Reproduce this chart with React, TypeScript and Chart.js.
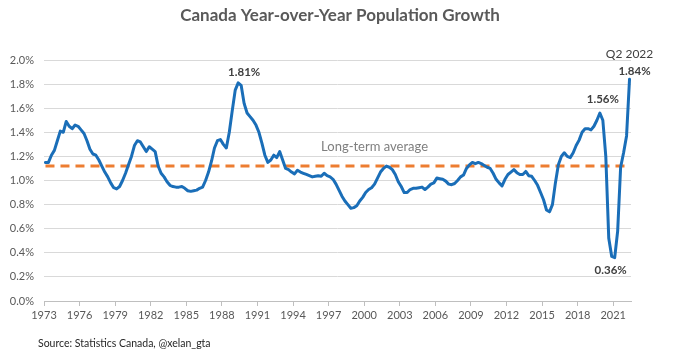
import React, { useEffect, useRef } from "react";
import { Chart, registerables } from "chart.js";

Chart.register(...registerables);

const TITLE = "Canada Year-over-Year Population Growth";
const SOURCE = "Source: Statistics Canada, @xelan_gta";
const START_YEAR = 1973;

// Quarterly YoY population growth (%), 1973 Q1 .. 2022 Q2
const growth: number[] = [
  1.15, 1.15, 1.21, 1.25, 1.33, 1.41, 1.40, 1.49, 1.45, 1.43, 1.46, 1.45,
  1.42, 1.39, 1.33, 1.26, 1.22, 1.21, 1.17, 1.12, 1.07, 1.03, 0.98, 0.94,
  0.93, 0.95, 1.00, 1.06, 1.13, 1.20, 1.29, 1.33, 1.32, 1.28, 1.24, 1.28,
  1.26, 1.24, 1.12, 1.06, 1.03, 0.99, 0.96, 0.95, 0.945, 0.945, 0.95, 0.935,
  0.915, 0.91, 0.915, 0.92, 0.935, 0.945, 1.00, 1.07, 1.16, 1.27, 1.33, 1.34,
  1.30, 1.27, 1.40, 1.58, 1.75, 1.81, 1.79, 1.64, 1.56, 1.53, 1.50, 1.46,
  1.40, 1.31, 1.21, 1.15, 1.17, 1.21, 1.19, 1.24, 1.17, 1.10, 1.09, 1.07,
  1.055, 1.085, 1.07, 1.06, 1.05, 1.04, 1.03, 1.035, 1.04, 1.035, 1.06, 1.04,
  1.03, 1.01, 0.97, 0.92, 0.87, 0.83, 0.80, 0.77, 0.775, 0.79, 0.83, 0.86,
  0.90, 0.925, 0.94, 0.97, 1.02, 1.07, 1.10, 1.12, 1.11, 1.09, 1.05, 0.99,
  0.95, 0.90, 0.90, 0.925, 0.935, 0.935, 0.94, 0.945, 0.925, 0.945, 0.97, 0.98,
  1.02, 1.015, 1.01, 0.995, 0.97, 0.965, 0.975, 1.00, 1.03, 1.045, 1.10, 1.13,
  1.15, 1.14, 1.15, 1.14, 1.125, 1.11, 1.10, 1.06, 1.01, 0.98, 0.955, 1.01,
  1.05, 1.07, 1.09, 1.065, 1.05, 1.05, 1.075, 1.04, 1.035, 1.00, 0.96, 0.90,
  0.84, 0.755, 0.74, 0.80, 0.98, 1.13, 1.20, 1.23, 1.20, 1.19, 1.23, 1.29,
  1.335, 1.40, 1.43, 1.43, 1.42, 1.45, 1.50, 1.56, 1.50, 1.20, 0.52, 0.37,
  0.36, 0.58, 1.11, 1.23, 1.37, 1.84,
];

const LONG_TERM_AVG = 1.12;
const AVG_LABEL = "Long-term average";
const AVG_LABEL_INDEX = 111;

const tickYears: number[] = [
  1973, 1976, 1979, 1982, 1985, 1988, 1991, 1994, 1997, 2000, 2003, 2006,
  2009, 2012, 2015, 2018, 2021,
];

const Y_MIN = 0;
const Y_MAX = 2.0;
const Y_STEP = 0.2;

type Note = { index: number; text: string; dx: number; dy: number; bold: boolean };
const notes: Note[] = [
  { index: 65, text: "1.81%", dx: 6, dy: -11, bold: true },
  { index: 187, text: "1.56%", dx: 3, dy: -14, bold: true },
  { index: 192, text: "0.36%", dx: -4, dy: 13, bold: true },
  { index: 197, text: "1.84%", dx: 5, dy: -8, bold: true },
  { index: 197, text: "Q2 2022", dx: 0, dy: -25, bold: false },
];

const FONT = "Lato, 'Open Sans', sans-serif";

const textPlugin = {
  id: "texts",
  afterDatasetsDraw(chart: any) {
    const { ctx } = chart;
    const xs = chart.scales.x;
    const ys = chart.scales.y;
    ctx.save();
    ctx.textAlign = "center";
    ctx.textBaseline = "alphabetic";
    ctx.fillStyle = "#595959";
    ctx.font = `bold 17px ${FONT}`;
    ctx.fillText(TITLE, 340, 20.5);

    ctx.textAlign = "left";
    ctx.fillStyle = "#262626";
    ctx.font = `10.5px ${FONT}`;
    ctx.fillText(SOURCE, 38, 346.5);

    ctx.textAlign = "center";
    ctx.textBaseline = "middle";
    ctx.fillStyle = "#7f7f7f";
    ctx.font = `13px ${FONT}`;
    ctx.fillText(
      AVG_LABEL,
      xs.getPixelForValue(AVG_LABEL_INDEX),
      ys.getPixelForValue(LONG_TERM_AVG) - 19
    );

    ctx.fillStyle = "#404040";
    for (const n of notes) {
      ctx.font = `${n.bold ? "bold " : ""}${n.bold ? 11.5 : 12}px ${FONT}`;
      const px = xs.getPixelForValue(n.index);
      const py = ys.getPixelForValue(growth[n.index]);
      ctx.fillText(n.text, px + n.dx, py + n.dy);
    }
    ctx.restore();
  },
};

export default function App() {
  const ref = useRef<HTMLCanvasElement | null>(null);

  useEffect(() => {
    if (!ref.current) return;
    const lineData = growth.map((v, i) => ({ x: i, y: v }));
    const avgData = [
      { x: 0, y: LONG_TERM_AVG },
      { x: growth.length - 1, y: LONG_TERM_AVG },
    ];
    const chart = new Chart(ref.current, {
      type: "line",
      data: {
        datasets: [
          {
            data: lineData,
            borderColor: "#1a6eb8",
            borderWidth: 3,
            pointRadius: 0,
            tension: 0,
            borderJoinStyle: "round",
            borderCapStyle: "round",
          },
          {
            data: avgData,
            borderColor: "#ed7d31",
            borderWidth: 3,
            borderDash: [9, 6],
            pointRadius: 0,
          },
        ],
      },
      options: {
        responsive: false,
        animation: false,
        devicePixelRatio: 1,
        layout: { padding: { top: 60, right: 50, left: 0, bottom: 0 } },
        plugins: {
          legend: { display: false },
          tooltip: { enabled: false },
          title: { display: false },
        },
        scales: {
          x: {
            type: "linear",
            min: -0.5,
            max: growth.length - 0.5,
            afterBuildTicks: (s: any) => {
              s.ticks = tickYears.map((yr) => ({ value: (yr - START_YEAR) * 4 - 0.5 }));
            },
            afterFit: (s: any) => {
              s.height = 60;
            },
            ticks: {
              autoSkip: false,
              maxRotation: 0,
              padding: 3,
              color: "#595959",
              font: { family: FONT, size: 11 },
              callback: (v: any) => String(START_YEAR + Math.round((Number(v) + 0.5) / 4)),
            },
            grid: {
              drawOnChartArea: false,
              drawTicks: true,
              tickLength: 5,
              color: "#bfbfbf",
            },
            border: { display: true, color: "#bfbfbf" },
          },
          y: {
            min: Y_MIN,
            max: Y_MAX,
            afterFit: (s: any) => {
              s.width = 44;
            },
            ticks: {
              stepSize: Y_STEP,
              padding: 10,
              color: "#595959",
              font: { family: FONT, size: 11 },
              callback: (v: any) => Number(v).toFixed(1) + "%",
            },
            grid: { color: "#d9d9d9", drawTicks: false },
            border: { display: false },
          },
        },
      },
      plugins: [textPlugin],
    } as any);
    return () => chart.destroy();
  }, []);

  return (
    <div style={{ position: "absolute", left: 0, top: 0, width: 681, height: 361, background: "#fff" }}>
      <canvas ref={ref} width={681} height={361} />
    </div>
  );
}
